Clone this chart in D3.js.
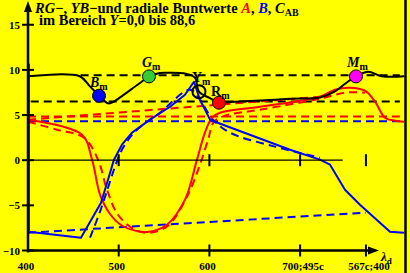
<!DOCTYPE html>
<html>
<head>
<meta charset="utf-8">
<script src="https://cdn.jsdelivr.net/npm/d3@7"></script>
<style>
  body { margin: 0; background: #ffff00; }
  svg { display: block; }
  text { font-family: "Liberation Serif", "Times New Roman", serif; font-weight: bold; }
</style>
</head>
<body>
<div id="chart"></div>
<script>
// values (x = lambda_d scale, y = value)
var xTicks = [400, 500, 600, 700, 772.6];
var xTickLabels = ["400", "500", "600", "700;495c", "567c;400"];
var yTicks = [-10, -5, 0, 5, 10, 15];
var yTickLabels = ["\u221210", "\u22125", "0", "5", "10", "15"];

// C_AB radial, solid
var chromaSolid = [[400,9.3],[457,9.3],[468,8.2],[478,7.2],[488,6.3],[493,6.4],[505,7.2],[520,8.3],[533,9.2],
  [545,9.65],[556,9.69],[574,9.58],[584,9.14],[588.5,7.6],[600,6.9],[610.6,6.4],[623,6.45],[656,6.6],
  [689,6.8],[722,6.95],[738,7.6],[750,8.5],[762,9.3],[775,9.8],[790,9.3],[815,9.3]];
// A (red)
var aSolid = [[400,4.49],[459.5,2.82],[470.6,0.06],[479.4,-3.82],[490,-5.9],[503,-7.2],[518,-7.8],[531.2,-7.95],
  [553.2,-7.14],[573.1,-4.37],[586.3,0.06],[595.1,3.05],[602.9,4.71],[611.7,5.26],[655.8,5.92],[721.9,7.03],
  [738.5,7.81],[755,8.03],[771.5,7.7],[782.6,6.48],[793.6,4.71],[804.6,4.37],[814.5,4.26]];
var aDashed = [[400,4.26],[432,3.38],[461.7,2.49],[477.2,0.06],[487.1,-3.27],[499.2,-6.04],[518,-7.7],
  [534.5,-8.03],[554.4,-7.25],[576.4,-3.82],[589.6,-0.5],[598.5,2.27],[605.1,4.26],[617.2,4.93],
  [655.8,5.59],[721.9,6.81],[749.5,7.48],[771.5,7.48]];
var aChord = [[400,4.49],[721.9,7.03]];
// B (blue)
var bSolid = [[401,10.69],[401,-7.92],[458.4,-8.58],[480.5,-4.71],[488.2,-2.16],[494.8,0.06],[503.6,1.72],
  [514.7,3.05],[534.5,4.49],[556.6,5.92],[573.1,7.25],[583,8.69],[589.6,6.7],[600.7,4.49],[606.2,4.26],
  [688.9,1.16],[721.9,0.06],[733,-0.5],[749.5,-3.27],[766,-4.93],[799.1,-7.92],[814.5,-8.03]];
var bDashed = [[468.4,-8.58],[479.4,-5.7],[488.2,-3.05],[495.9,-0.72],[503.6,1.16],[518,3.16],[545.5,5.26],
  [578.6,7.81],[589.6,6.7],[604,4.49],[622.7,3.05],[672.3,1.5],[721.9,0.28]];
var bChord = [[400,-8.03],[772.6,-5.81]];
// horizontal reference levels
var levels = [
  {v: 9.41, from: 458, to: 810, color: "black"},
  {v: 6.51, from: 403, to: 810, color: "black"},
  {v: 4.85, from: 400, to: 810, color: "red"},
  {v: 4.3, from: 400, to: 810, color: "blue"}
];
// maxima / special points
var markers = [
  {name: "B", x: 478.3, v: 7.14, fill: "blue", italic: true, dx: -9, dy: -9},
  {name: "G", x: 533.4, v: 9.28, fill: "#33cc33", italic: true, dx: -7, dy: -9},
  {name: "Y", x: 588.5, v: 7.59, fill: "none", italic: false, dx: -7, dy: -10},
  {name: "R", x: 610.6, v: 6.37, fill: "red", italic: false, dx: -8, dy: -7},
  {name: "M", x: 761.6, v: 9.28, fill: "magenta", italic: true, dx: -9, dy: -9}
];

var width = 410, height = 273;
var x = d3.scaleLinear().domain([400, 815]).range([28, 404.4]);
var y = d3.scaleLinear().domain([-10, 15]).range([250.5, 24.75]);

var svg = d3.select("#chart").append("svg")
    .attr("width", width).attr("height", height);
svg.append("rect").attr("width", width).attr("height", height).attr("fill", "#ffff00");

var line = d3.line().x(d => x(d[0])).y(d => y(d[1]));
var smooth = d3.line().x(d => x(d[0])).y(d => y(d[1])).curve(d3.curveCatmullRom.alpha(0.5));

// reference levels
levels.forEach(function(l){
  svg.append("line")
     .attr("x1", x(l.from)).attr("x2", x(l.to))
     .attr("y1", y(l.v)).attr("y2", y(l.v))
     .attr("stroke", l.color).attr("stroke-width", 2)
     .attr("stroke-dasharray", "8,5");
});

function curve(data, color, dashed, gen){
  svg.append("path")
     .attr("d", gen(data))
     .attr("fill", "none")
     .attr("stroke", color)
     .attr("stroke-width", 2)
     .attr("stroke-linejoin", "round")
     .attr("stroke-dasharray", dashed ? "8,5" : null);
}
curve(aChord, "red", true, line);
curve(bChord, "blue", true, line);
curve(aDashed, "red", true, smooth);
curve(bDashed, "blue", true, smooth);
curve(aSolid, "red", false, smooth);
curve(bSolid, "blue", false, line);
curve(chromaSolid, "black", false, smooth);

// zero line with ticks
svg.append("line")
   .attr("x1", x(400)).attr("x2", x(747)).attr("y1", y(0)).attr("y2", y(0))
   .attr("stroke", "black").attr("stroke-width", 1.3);
xTicks.slice(1).forEach(function(t){
  svg.append("line").attr("x1", x(t)).attr("x2", x(t))
     .attr("y1", y(0) - 6).attr("y2", y(0) + 6)
     .attr("stroke", "black").attr("stroke-width", 2);
});

// x axis
var yBottom = y(-10);
svg.append("line").attr("x1", x(400)).attr("x2", 370).attr("y1", yBottom).attr("y2", yBottom)
   .attr("stroke", "black").attr("stroke-width", 2.5);
svg.append("path").attr("d", "M368," + (yBottom - 4) + " L379," + yBottom + " L368," + (yBottom + 4) + " Z")
   .attr("fill", "black");
xTicks.forEach(function(t, i){
  if (i > 0)
    svg.append("line").attr("x1", x(t)).attr("x2", x(t))
       .attr("y1", yBottom - 6).attr("y2", yBottom + 6)
       .attr("stroke", "black").attr("stroke-width", 2);
  svg.append("text").attr("x", x(t) + (i >= 3 ? 3 : -2)).attr("y", 270)
     .attr("text-anchor", "middle").attr("font-size", 11).text(xTickLabels[i]);
});
var lam = svg.append("text").attr("x", 381).attr("y", 261).attr("font-size", 13);
lam.append("tspan").attr("font-style", "italic").text("\u03bb");
lam.append("tspan").attr("font-size", 9).attr("dy", 3).text("d");

// y axis
svg.append("line").attr("x1", x(400)).attr("x2", x(400)).attr("y1", yBottom + 2).attr("y2", 10)
   .attr("stroke", "black").attr("stroke-width", 2.5);
svg.append("path").attr("d", "M" + (x(400) - 4) + ",12 L" + x(400) + ",1 L" + (x(400) + 4) + ",12 Z")
   .attr("fill", "black");
yTicks.forEach(function(t, i){
  svg.append("line").attr("x1", x(400) - 6).attr("x2", x(400) + 6)
     .attr("y1", y(t)).attr("y2", y(t))
     .attr("stroke", "black").attr("stroke-width", 2);
  svg.append("text").attr("x", 20).attr("y", y(t) + 4)
     .attr("text-anchor", "end").attr("font-size", 11).text(yTickLabels[i]);
});

// markers
markers.forEach(function(m){
  var cx = x(m.x), cy = y(m.v);
  svg.append("circle").attr("cx", cx).attr("cy", cy).attr("r", 6.5)
     .attr("fill", m.fill).attr("stroke", "black").attr("stroke-width", m.fill == "none" ? 2 : 1);
  var t = svg.append("text").attr("x", cx + m.dx).attr("y", cy + m.dy).attr("font-size", 14);
  t.append("tspan").attr("font-style", m.italic ? "italic" : null).text(m.name);
  t.append("tspan").attr("font-size", 10).attr("dy", 3).text("m");
});

// title
var t1 = svg.append("text").attr("x", 35).attr("y", 13).attr("font-size", 14.5);
t1.append("tspan").attr("font-style", "italic").text("RG");
t1.append("tspan").text("\u2212, ");
t1.append("tspan").attr("font-style", "italic").text("YB");
t1.append("tspan").text("\u2212und radiale Buntwerte ");
t1.append("tspan").attr("font-style", "italic").attr("fill", "red").text("A");
t1.append("tspan").text(", ");
t1.append("tspan").attr("font-style", "italic").attr("fill", "blue").text("B");
t1.append("tspan").text(", ");
t1.append("tspan").attr("font-style", "italic").text("C");
t1.append("tspan").attr("font-size", 10).attr("dy", 3).text("AB");
var t2 = svg.append("text").attr("x", 39).attr("y", 25).attr("font-size", 14.5);
t2.append("tspan").text("im Bereich ");
t2.append("tspan").attr("font-style", "italic").text("Y");
t2.append("tspan").text("=0,0 bis 88,6");

// right frame
svg.append("line").attr("x1", 405.5).attr("x2", 405.5).attr("y1", 0).attr("y2", height)
   .attr("stroke", "black").attr("stroke-width", 2.5);
</script>
</body>
</html>
